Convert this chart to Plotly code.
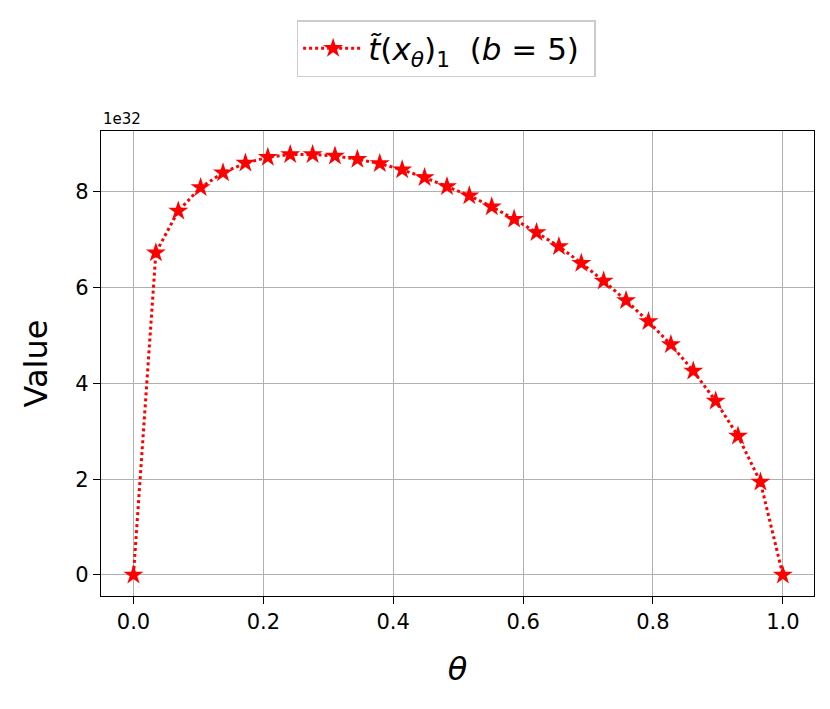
import plotly.graph_objects as go

# theta grid and values (units of 1e32)
theta = [0.0, 0.0345, 0.069, 0.1034, 0.1379, 0.1724, 0.2069, 0.2414, 0.2759, 0.3103,
         0.3448, 0.3793, 0.4138, 0.4483, 0.4828, 0.5172, 0.5517, 0.5862, 0.6207, 0.6552,
         0.6897, 0.7241, 0.7586, 0.7931, 0.8276, 0.8621, 0.8966, 0.931, 0.9655, 1.0]
values = [0.0, 6.73, 7.6, 8.09, 8.4, 8.6, 8.72, 8.78, 8.78, 8.75,
          8.68, 8.59, 8.46, 8.3, 8.11, 7.92, 7.69, 7.43, 7.15, 6.86,
          6.51, 6.14, 5.73, 5.29, 4.81, 4.26, 3.63, 2.9, 1.94, 0.0]
xticks = [0.0, 0.2, 0.4, 0.6, 0.8, 1.0]
yticks = [0, 2, 4, 6, 8]

fig = go.Figure()
fig.add_trace(go.Scatter(
    x=theta,
    y=values,
    mode="lines+markers",
    name="<i>t̃</i>(<i>x</i><sub><i>θ</i></sub>)<sub>1</sub>  (<i>b</i> = 5) ",
    line=dict(color="red", width=3, dash="dot"),
    marker=dict(symbol="star", size=15, color="red"),
))

axis_style = dict(
    showline=True, linecolor="black", linewidth=1.3, mirror=True,
    ticks="outside", ticklen=7, tickcolor="black", tickwidth=1.3,
    showgrid=True, gridcolor="#b0b0b0", gridwidth=1.3,
    zeroline=False, tickfont=dict(size=21, color="black"),
    automargin=False,
)

# page body adds an 8px offset, so the figure is a bit smaller than the window
fig.update_layout(
    width=822,
    height=701,
    template="none",
    plot_bgcolor="white",
    paper_bgcolor="white",
    font=dict(family="DejaVu Sans, sans-serif", color="black"),
    margin=dict(l=93, r=16, t=123, b=113, autoexpand=False),
    showlegend=True,
    legend=dict(
        orientation="h",
        xref="container", yref="container",
        x=0.533, y=0.942, xanchor="center", yanchor="middle",
        bordercolor="#cccccc", borderwidth=1.5,
        font=dict(size=31), itemwidth=60,
    ),
    xaxis=dict(axis_style, range=[-0.05, 1.048], tickvals=xticks,
               ticktext=[f"{t:.1f}" for t in xticks],
               title=dict(text="<i>θ</i>", font=dict(size=32), standoff=24)),
    yaxis=dict(axis_style, range=[-0.44, 9.27], tickvals=yticks,
               title=dict(text="Value", font=dict(size=32), standoff=18)),
    annotations=[dict(
        text="1e32", xref="paper", yref="paper", x=0, y=1.0,
        xanchor="left", yanchor="bottom", showarrow=False,
        font=dict(size=15, color="black"), yshift=1,
    )],
)

fig.write_html("out.html")
